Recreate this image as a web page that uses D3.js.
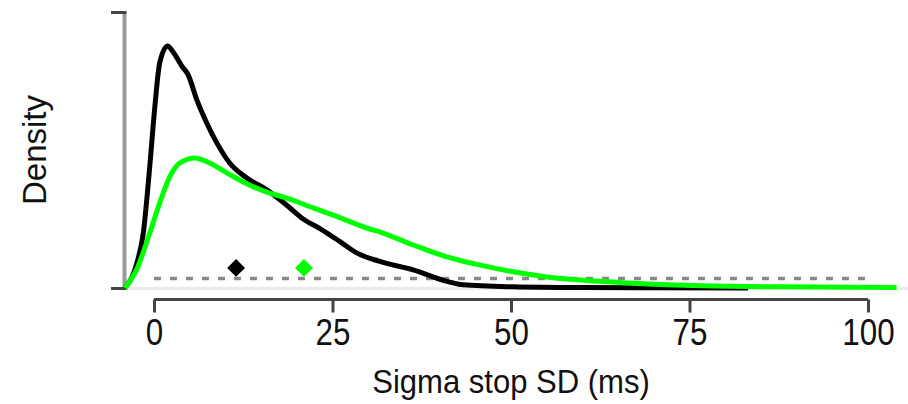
<!DOCTYPE html>
<html>
<head>
<meta charset="utf-8">
<script src="https://cdn.jsdelivr.net/npm/d3@7"></script>
<style>
  html, body { margin: 0; padding: 0; background: #fff; }
  svg { display: block; }
  text { font-family: "Liberation Sans", Arial, Helvetica, sans-serif; fill: #111; }
</style>
</head>
<body>
<svg id="chart" width="908" height="404"></svg>
<script>
// Posterior densities of sigma stop SD (ms), two groups
const darkMs   = [-4.1, -2.4, -1.5, -0.6, 0.1, 0.8, 1.9, 2.7, 3.9, 4.8, 6.0, 7.4, 8.8, 10.6, 13.0, 15.8, 18.6, 20.9, 23.3, 26.1, 28.4, 31.5, 36.3, 41.0, 43.3, 50.3, 59.7, 69.5, 83.2];
const darkDens = [0, 0.0063, 0.0139, 0.0307, 0.0456, 0.0571, 0.0614, 0.0598, 0.0563, 0.0540, 0.0477, 0.0418, 0.0368, 0.0317, 0.0279, 0.0249, 0.0210, 0.0175, 0.0150, 0.0117, 0.0089, 0.0068, 0.0046, 0.0017, 0.0008, 0.0003, 0.0001, 0.00005, 0];

const limeMs   = [-4.1, -2.4, -0.6, 0.8, 2.2, 3.6, 5.7, 7.8, 10.2, 12.5, 15.8, 18.6, 22.3, 26.1, 29.8, 31.7, 36.3, 41.0, 45.7, 50.3, 55.0, 59.7, 64.3, 69.1, 78.3, 87.7, 104.0];
const limeDens = [0, 0.0048, 0.0139, 0.0216, 0.0282, 0.0317, 0.0330, 0.0317, 0.0292, 0.0269, 0.0243, 0.0228, 0.0203, 0.0178, 0.0152, 0.0142, 0.0109, 0.0079, 0.0058, 0.0041, 0.0028, 0.0020, 0.0015, 0.0010, 0.0005, 0.0003, 0.0001];

// Posterior means, drawn as diamonds just above the prior line
const darkMean = 11.5;
const limeMean = 21.0;
const meanLevel = 0.0051;

// Prior density over the plotted range
const priorRange = [0, 100];
const priorDens = 0.0024;

const xTicks = [0, 25, 50, 75, 100];
const yTicks = [0, 0.07];
const xTitle = "Sigma stop SD (ms)";
const yTitle = "Density";

const svg = d3.select("#chart");

const x = d3.scaleLinear().domain([0, 100]).range([154, 868]);
const y = d3.scaleLinear().domain([0, 0.07]).range([288, 12]);

// faint zero baseline
svg.append("line")
  .attr("x1", 126).attr("x2", 908)
  .attr("y1", y(0) + 0.5).attr("y2", y(0) + 0.5)
  .attr("stroke", "#ebebeb").attr("stroke-width", 3);

// y axis: plain bar with end ticks, no labels
svg.append("line")
  .attr("x1", 124.5).attr("x2", 124.5)
  .attr("y1", y(0.07)).attr("y2", y(0))
  .attr("stroke", "#9a9a9a").attr("stroke-width", 4);
svg.selectAll("line.ytick").data(yTicks).join("line")
  .attr("class", "ytick")
  .attr("x1", 111).attr("x2", 126.5)
  .attr("y1", d => y(d) + 0.5).attr("y2", d => y(d) + 0.5)
  .attr("stroke", "#444").attr("stroke-width", 3);

// x axis
const xAxis = d3.axisBottom(x).tickValues(xTicks).tickSize(13).tickSizeOuter(0).tickFormat(d3.format("d"));
const gx = svg.append("g").attr("transform", "translate(0,299.5)").call(xAxis);
gx.select(".domain").attr("stroke", "#444").attr("stroke-width", 3)
  .attr("d", `M${x(0)},0H${x(100)}`);
gx.selectAll(".tick line").attr("stroke", "#444").attr("stroke-width", 3);
gx.selectAll(".tick text")
  .attr("y", 0).attr("dy", 0)
  .attr("transform", "translate(0,45.5) scale(0.95,1.14)")
  .style("font-size", "33px")
  .attr("fill", "#111");

// axis titles
svg.append("text")
  .attr("transform", `translate(${(x(0) + x(100)) / 2},393) scale(0.97,1.06)`)
  .attr("text-anchor", "middle")
  .style("font-size", "32px")
  .text(xTitle);
svg.append("text")
  .attr("transform", "translate(46,150) rotate(-90)")
  .attr("text-anchor", "middle")
  .style("font-size", "33px")
  .text(yTitle);

// prior line
svg.append("line")
  .attr("x1", x(priorRange[0])).attr("x2", x(priorRange[1]))
  .attr("y1", y(priorDens)).attr("y2", y(priorDens))
  .attr("stroke", "#888").attr("stroke-width", 3.5)
  .attr("stroke-dasharray", "7 9");

// density curves
const line = d3.line()
  .x(d => x(d[0])).y(d => y(d[1]))
  .curve(d3.curveMonotoneX);

svg.append("path")
  .datum(d3.zip(darkMs, darkDens))
  .attr("d", line)
  .attr("fill", "none").attr("stroke", "#000")
  .attr("stroke-width", 5).attr("stroke-linejoin", "round");

svg.append("path")
  .datum(d3.zip(limeMs, limeDens))
  .attr("d", line)
  .attr("fill", "none").attr("stroke", "#00ff00")
  .attr("stroke-width", 5).attr("stroke-linejoin", "round");

// mean markers
const diamond = d3.symbol().type(d3.symbolSquare).size(160);
svg.selectAll("path.mean").data([[darkMean, "#000"], [limeMean, "#00ff00"]]).join("path")
  .attr("class", "mean")
  .attr("d", diamond)
  .attr("transform", d => `translate(${x(d[0])},${y(meanLevel)}) rotate(45)`)
  .attr("fill", d => d[1]);
</script>
</body>
</html>
